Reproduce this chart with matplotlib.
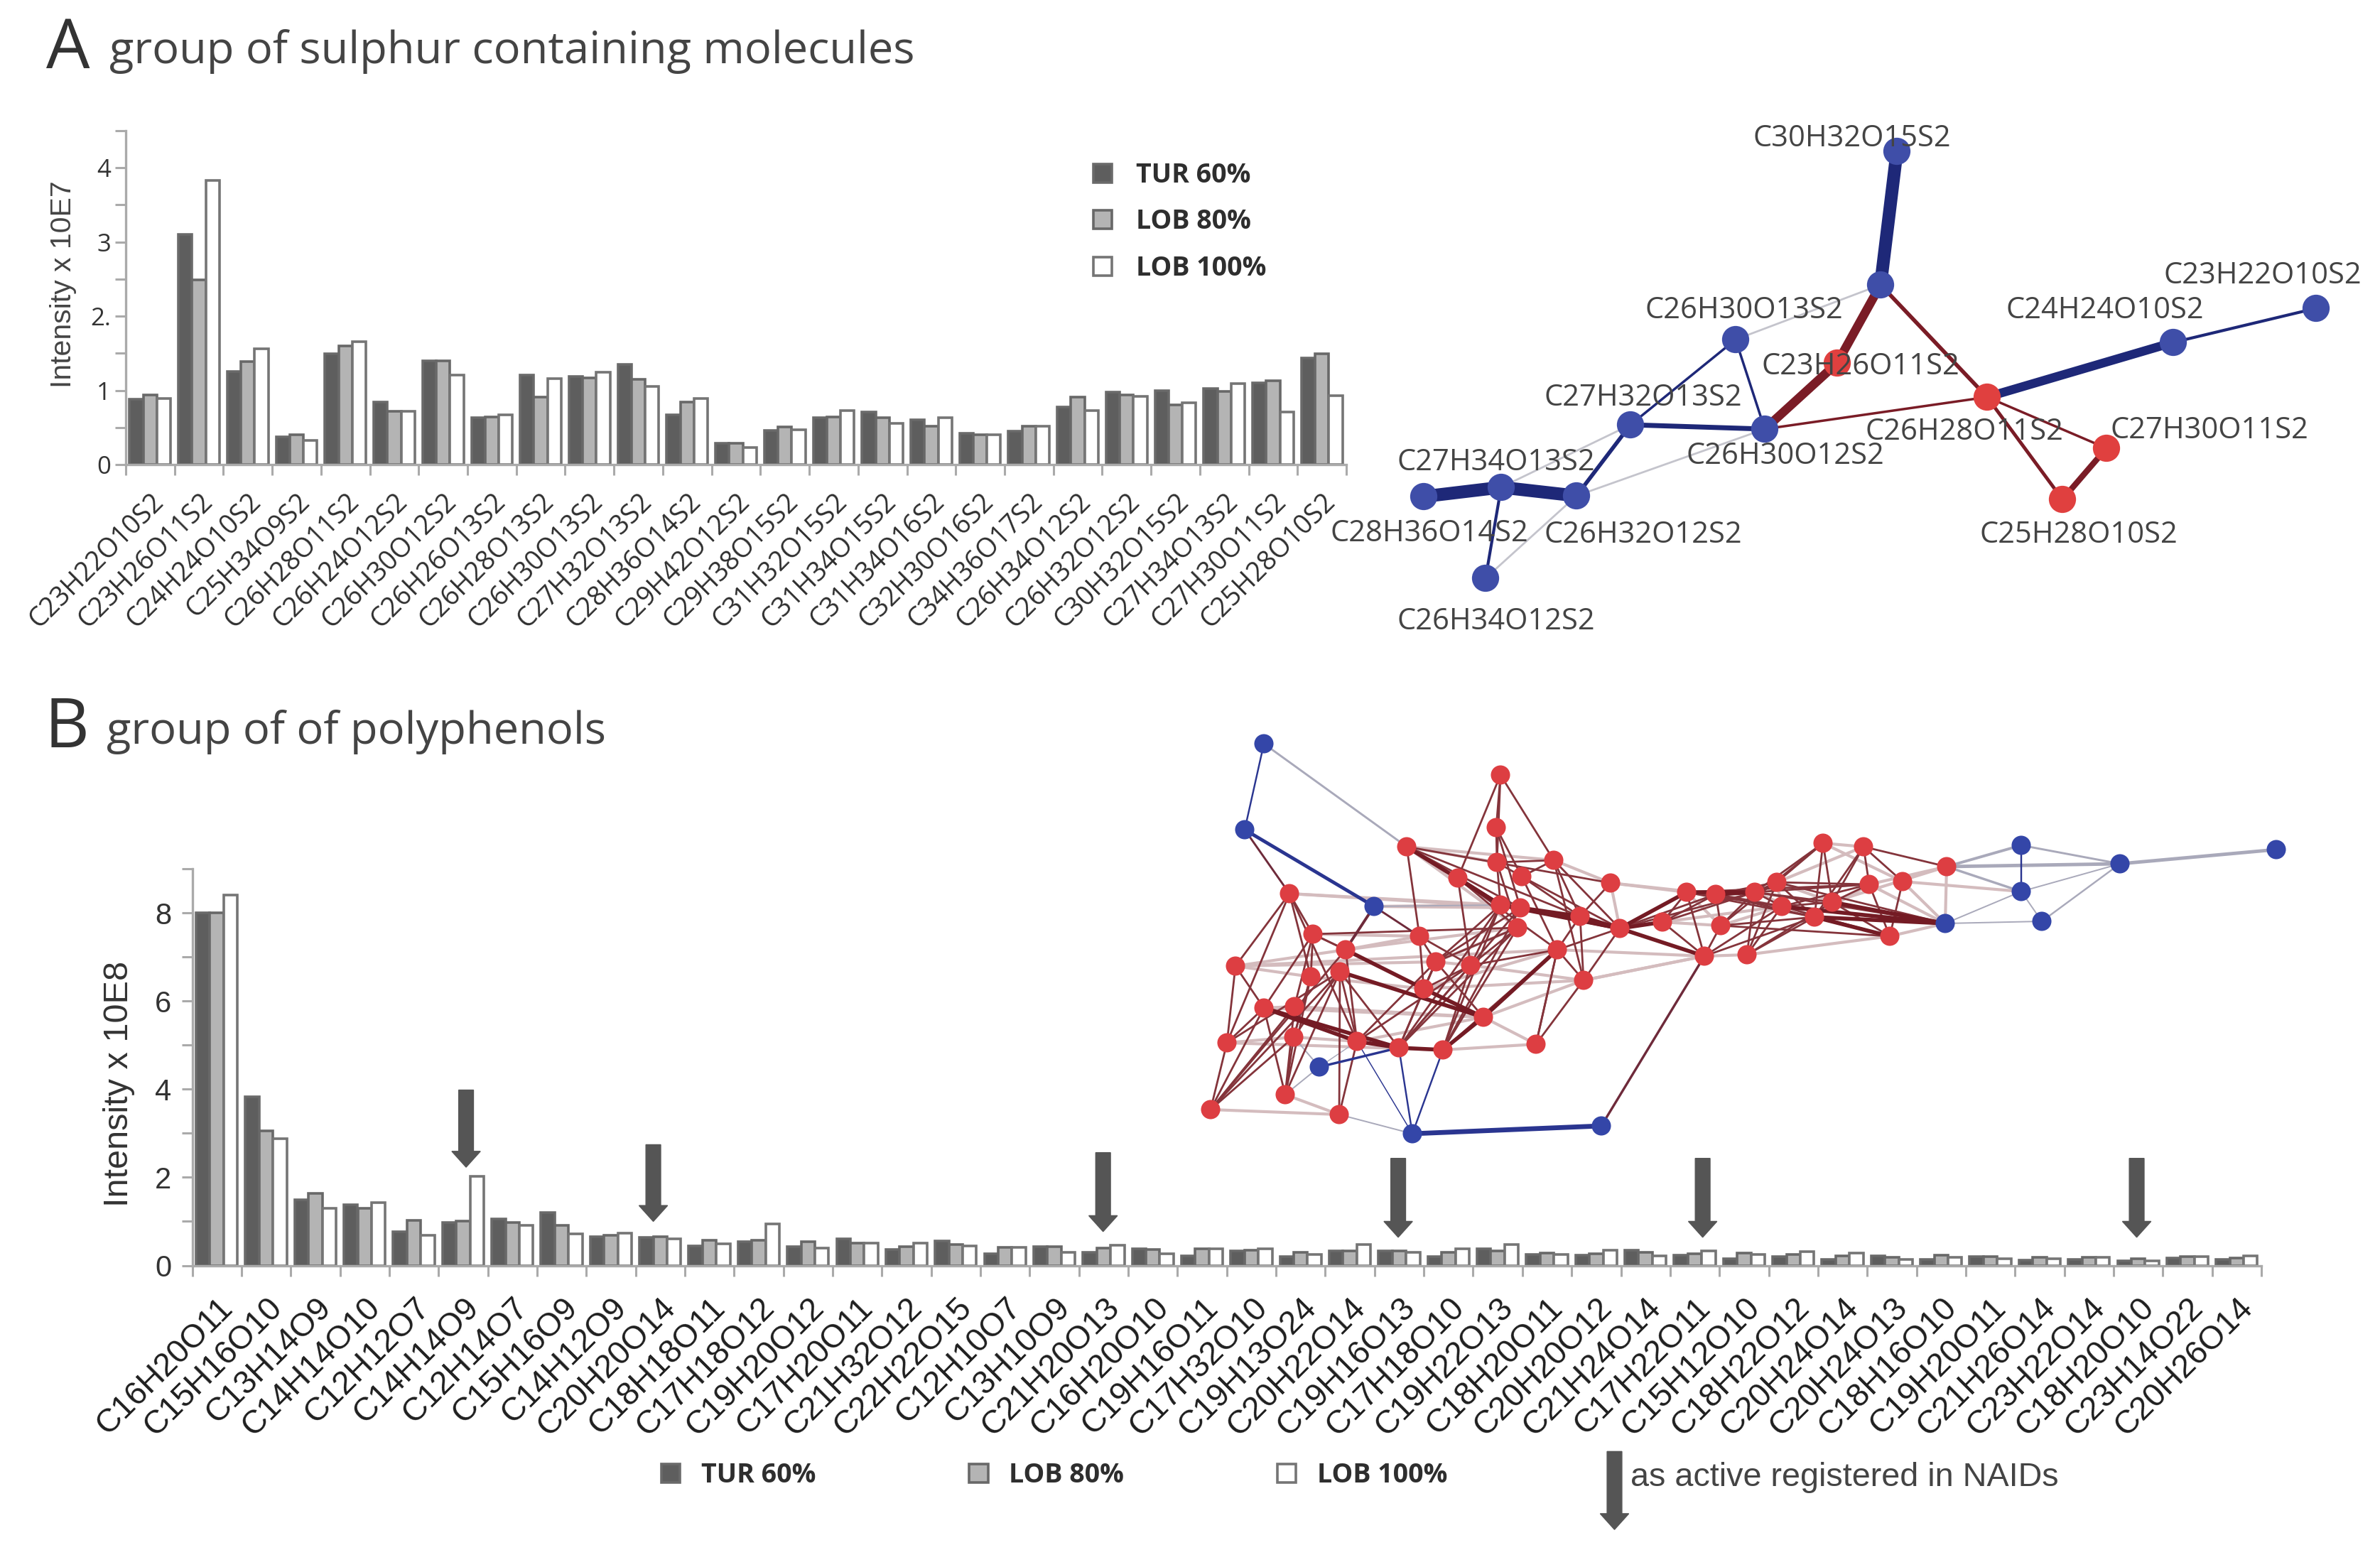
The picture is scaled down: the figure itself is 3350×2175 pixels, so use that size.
import matplotlib
matplotlib.use('Agg')
import matplotlib.pyplot as plt
import numpy as np

W, H = 3350, 2175
series_names = ['TUR 60%', 'LOB 80%', 'LOB 100%']

# panel A, intensity x 10E7
labels_a = ['C23H22O10S2', 'C23H26O11S2', 'C24H24O10S2', 'C25H34O9S2', 'C26H28O11S2',
            'C26H24O12S2', 'C26H30O12S2', 'C26H26O13S2', 'C26H28O13S2', 'C26H30O13S2',
            'C27H32O13S2', 'C28H36O14S2', 'C29H42O12S2', 'C29H38O15S2', 'C31H32O15S2',
            'C31H34O15S2', 'C31H34O16S2', 'C32H30O16S2', 'C34H36O17S2', 'C26H34O12S2',
            'C26H32O12S2', 'C30H32O15S2', 'C27H34O13S2', 'C27H30O11S2', 'C25H28O10S2']
tur_a = [0.88, 3.10, 1.25, 0.37, 1.49, 0.84, 1.40, 0.63, 1.21, 1.19, 1.35, 0.67, 0.29,
         0.46, 0.63, 0.71, 0.60, 0.42, 0.45, 0.78, 0.98, 1.00, 1.02, 1.10, 1.44]
lob80_a = [0.94, 2.49, 1.39, 0.40, 1.60, 0.72, 1.40, 0.64, 0.91, 1.17, 1.15, 0.84, 0.29,
           0.51, 0.64, 0.63, 0.52, 0.40, 0.52, 0.91, 0.94, 0.80, 0.99, 1.13, 1.49]
lob100_a = [0.89, 3.83, 1.56, 0.33, 1.66, 0.72, 1.21, 0.67, 1.16, 1.24, 1.05, 0.89, 0.23,
            0.47, 0.73, 0.56, 0.63, 0.40, 0.52, 0.73, 0.92, 0.83, 1.09, 0.71, 0.93]

# panel B, intensity x 10E8
labels_b = ['C16H20O11', 'C15H16O10', 'C13H14O9', 'C14H14O10', 'C12H12O7', 'C14H14O9',
            'C12H14O7', 'C15H16O9', 'C14H12O9', 'C20H20O14', 'C18H18O11', 'C17H18O12',
            'C19H20O12', 'C17H20O11', 'C21H32O12', 'C22H22O15', 'C12H10O7', 'C13H10O9',
            'C21H20O13', 'C16H20O10', 'C19H16O11', 'C17H32O10', 'C19H13O24', 'C20H22O14',
            'C19H16O13', 'C17H18O10', 'C19H22O13', 'C18H20O11', 'C20H20O12', 'C21H24O14',
            'C17H22O11', 'C15H12O10', 'C18H22O12', 'C20H24O14', 'C20H24O13', 'C18H16O10',
            'C19H20O11', 'C21H26O14', 'C23H22O14', 'C18H20O10', 'C23H14O22', 'C20H26O14']
tur_b = [8.00, 3.82, 1.49, 1.37, 0.77, 0.97, 1.05, 1.20, 0.66, 0.63, 0.44, 0.54, 0.42, 0.60,
         0.36, 0.55, 0.27, 0.42, 0.30, 0.38, 0.22, 0.33, 0.20, 0.33, 0.33, 0.20, 0.38, 0.25,
         0.24, 0.35, 0.24, 0.15, 0.20, 0.13, 0.22, 0.14, 0.20, 0.12, 0.13, 0.10, 0.17, 0.14]
lob80_b = [8.00, 3.05, 1.63, 1.30, 1.02, 1.00, 0.97, 0.91, 0.68, 0.66, 0.58, 0.58, 0.54, 0.50,
           0.42, 0.47, 0.41, 0.42, 0.40, 0.36, 0.38, 0.35, 0.30, 0.33, 0.33, 0.30, 0.33, 0.28,
           0.27, 0.30, 0.26, 0.28, 0.25, 0.22, 0.18, 0.23, 0.20, 0.18, 0.18, 0.15, 0.20, 0.17]
lob100_b = [8.40, 2.87, 1.30, 1.43, 0.68, 2.02, 0.91, 0.72, 0.74, 0.60, 0.49, 0.95, 0.40, 0.50,
            0.50, 0.45, 0.41, 0.30, 0.46, 0.27, 0.38, 0.38, 0.25, 0.47, 0.30, 0.38, 0.47, 0.25,
            0.35, 0.22, 0.33, 0.25, 0.32, 0.28, 0.14, 0.18, 0.16, 0.15, 0.18, 0.10, 0.20, 0.22]

# arrows in panel B: x in category units, tail and tip in axis units
arrow_x = [5.06, 8.86, 17.99, 23.98, 30.16, 38.97]
arrow_tail = [3.98, 2.74, 2.56, 2.43, 2.43, 2.43]
arrow_tip = [2.23, 1.00, 0.77, 0.64, 0.64, 0.64]

# network A, positions in image pixels
net_a_x = [2670, 2647, 2586, 2797, 3059, 3260, 2443, 2295, 2484, 2965, 2903, 2004, 2113, 2219, 2091]
net_a_y = [213, 401, 511, 559, 482, 434, 478, 598, 604, 631, 703, 699, 686, 698, 814]
net_a_red = [2, 3, 9, 10]
net_a_navy_edges = [(0, 1, 13), (3, 4, 9), (4, 5, 3), (6, 7, 2.5), (6, 8, 2.5), (7, 8, 5),
                    (7, 13, 4), (11, 12, 13), (12, 13, 13), (12, 14, 3)]
net_a_red_edges = [(1, 2, 9), (2, 8, 9), (1, 3, 4), (8, 3, 2.5), (3, 9, 2.5), (3, 10, 3.5), (9, 10, 6)]
net_a_pale_edges = [(6, 1), (7, 12), (8, 13), (13, 14)]
net_a_text = ['C30H32O15S2', 'C23H22O10S2', 'C24H24O10S2', 'C26H30O13S2', 'C23H26O11S2',
              'C27H32O13S2', 'C26H28O11S2', 'C27H30O11S2', 'C26H30O12S2', 'C27H34O13S2',
              'C28H36O14S2', 'C26H32O12S2', 'C25H28O10S2', 'C26H34O12S2']
net_a_text_x = [2607, 3185, 2963, 2455, 2619, 2313, 2765, 3110, 2513, 2106, 2012, 2313, 2926, 2106]
net_a_text_y = [195, 388, 437, 437, 516, 560, 608, 606, 642, 651, 751, 753, 753, 875]

# network B, red nodes then blue nodes (index 54 on)
net_b_x = [2112, 2106, 1980, 2107, 2187, 2052, 2142, 2267, 1815, 2112, 2140, 2224, 2374, 2415,
           2470, 2501, 2566, 2623, 2631, 2508, 2579, 2554, 2340, 2422, 2280, 2136, 1998, 1848,
           1894, 2192, 2399, 2459, 1739, 2021, 2070, 1845, 1886, 2004, 2229, 1779, 1822, 2088,
           1727, 1821, 1910, 1969, 2031, 2162, 1809, 1704, 1885, 2740, 2678, 2660,
           1779, 1752, 1934, 1857, 1988, 2254, 2845, 2845, 2738, 2874, 2984, 3204]
net_b_y = [1091, 1165, 1192, 1214, 1211, 1236, 1234, 1243, 1258, 1274, 1278, 1290, 1256, 1259,
           1256, 1242, 1187, 1192, 1245, 1276, 1270, 1291, 1298, 1303, 1307, 1306, 1318, 1315,
           1337, 1337, 1346, 1344, 1360, 1354, 1359, 1375, 1368, 1392, 1380, 1419, 1417, 1432,
           1468, 1460, 1466, 1475, 1478, 1470, 1541, 1562, 1569, 1220, 1241, 1318,
           1047, 1168, 1276, 1502, 1596, 1585, 1190, 1255, 1300, 1297, 1216, 1196]
first_blue_b = 54
net_b_heavy = [(2, 9), (5, 9), (9, 24), (10, 24), (24, 30), (36, 41), (37, 41), (39, 45), (39, 44),
               (29, 41), (45, 46), (13, 14), (12, 14), (24, 12), (21, 62), (44, 45), (28, 37),
               (24, 22), (19, 62), (20, 62), (21, 53), (10, 11), (11, 24), (46, 41)]
net_b_medium = [(0, 1), (0, 4), (0, 5), (0, 3), (1, 3), (1, 10), (3, 9), (3, 25), (4, 11), (4, 38),
                (2, 26), (2, 5), (6, 29), (8, 27), (8, 32), (8, 35), (8, 44), (27, 28), (27, 35),
                (28, 44), (32, 39), (32, 42), (42, 39), (42, 49), (49, 39), (49, 43), (49, 40),
                (48, 39), (48, 43), (50, 44), (33, 45), (34, 46), (34, 45), (25, 46), (25, 45),
                (9, 46), (10, 45), (29, 46), (29, 47), (38, 47), (38, 24), (38, 11), (26, 37),
                (26, 33), (33, 37), (37, 34), (36, 44), (35, 43), (36, 45), (35, 48), (36, 50),
                (40, 48), (5, 34), (5, 25), (6, 11), (11, 29), (9, 10), (25, 34),
                (25, 33), (9, 33), (9, 34), (10, 33), (29, 24), (27, 25), (24, 13),
                (12, 13), (14, 15), (22, 12), (22, 30), (30, 23), (30, 19), (30, 12), (31, 14),
                (31, 19), (31, 15), (16, 15), (16, 14), (16, 20), (16, 23), (17, 18), (17, 20),
                (17, 52), (17, 51), (15, 18), (14, 18), (12, 18), (23, 13), (23, 14),
                (18, 53), (19, 18), (20, 19), (52, 53), (29, 38), (2, 11), (2, 7), (4, 24),
                (49, 28), (49, 36), (42, 36), (45, 9), (44, 33), (44, 34), (48, 36), (43, 35),
                (43, 36), (40, 27), (39, 27), (42, 8), (24, 14), (22, 13), (22, 14), (13, 15),
                (19, 12), (19, 13), (14, 19), (14, 20), (18, 20), (15, 21), (16, 21), (17, 21),
                (12, 21), (13, 21), (23, 21), (14, 62), (15, 62), (23, 53), (19, 53), (20, 53),
                (31, 21), (31, 20), (30, 21), (27, 28), (4, 3), (4, 6), (3, 6), (6, 24), (7, 11),
                (1, 6), (5, 29), (2, 10), (26, 34), (33, 41), (34, 29), (45, 33), (46, 10), (47, 29)]
net_b_pale = [(2, 3), (2, 4), (8, 9), (8, 10), (32, 29), (29, 30), (38, 30), (32, 35), (42, 43),
              (46, 47), (41, 47), (41, 38), (49, 50), (48, 50), (39, 40), (7, 12), (7, 13), (7, 4),
              (7, 24), (31, 53), (30, 31), (52, 62), (52, 61), (18, 62), (53, 62), (51, 62), (33, 34),
              (26, 27), (28, 26), (37, 29), (43, 44), (2, 25), (15, 19), (16, 52), (20, 21), (32, 33),
              (32, 28), (33, 25), (34, 38), (37, 38), (56, 10), (56, 9), (28, 25), (35, 37), (40, 41),
              (39, 41), (42, 46), (44, 41), (30, 38), (14, 21), (12, 19), (13, 19), (22, 19), (23, 19),
              (16, 17), (17, 15), (18, 51), (20, 51), (21, 20), (21, 18), (15, 20), (22, 23), (12, 23)]
net_b_blue = [(58, 59, 7), (55, 56, 5), (54, 55, 2.5), (60, 61, 2.5), (45, 58, 2.5), (46, 58, 2.5),
              (57, 45, 3.5), (44, 58, 1.5)]
net_b_dark_to_blue = [(30, 59, 3.5), (55, 8, 3), (56, 28, 4), (56, 26, 3)]
net_b_grey = [(54, 2, 3), (51, 60, 4), (51, 61, 3.5), (60, 64, 3), (61, 64, 2), (63, 64, 2.5),
              (61, 63, 2), (64, 65, 5), (51, 64, 5), (62, 61, 2), (62, 63, 2), (44, 57, 1.5),
              (50, 58, 2), (48, 57, 2), (43, 57, 2), (56, 9, 2)]


def px_axes(left, top, right, bottom):
    return fig.add_axes([left / W, 1 - bottom / H, (right - left) / W, (bottom - top) / H])


def draw_bars(ax, labels, series, ymax, major, labelled):
    x = np.arange(len(labels))
    faces = ['#5e5e5e', '#b4b4b4', 'white']
    edges = ['#6a6a6a', '#686868', '#757575']
    bars = []
    for k, vals in enumerate(series):
        bars.append(ax.bar(x + (k - 1) * 0.28, vals, 0.28, color=faces[k], edgecolor=edges[k],
                           linewidth=2.6, label=series_names[k]))
    ax.set_xlim(-0.5, len(labels) - 0.5)
    ax.set_ylim(0, ymax)
    ax.spines['top'].set_visible(False)
    ax.spines['right'].set_visible(False)
    ax.spines['left'].set_color('#aaaaaa')
    ax.spines['bottom'].set_color('#aaaaaa')
    ax.spines['left'].set_linewidth(2.4)
    ax.spines['bottom'].set_linewidth(2.4)
    ax.set_xticks(np.arange(len(labels) + 1) - 0.5)
    ax.set_xticklabels([])
    ax.set_yticks(np.arange(0, ymax + major / 2, major))
    ax.set_yticklabels(labelled)
    ax.tick_params(axis='both', which='major', color='#aaaaaa', width=2.2, length=11)
    return bars


fig = plt.figure(figsize=(W / 100, H / 100), dpi=100)

# bar chart A
ax_a = px_axes(177, 184, 1895, 654)
bars_a = draw_bars(ax_a, labels_a, [tur_a, lob80_a, lob100_a], 4.5, 0.5,
                   ['0', '', '1', '', '2.', '', '3', '', '4', ''])
ax_a.set_xticks(np.arange(len(labels_a)), minor=True)
ax_a.set_xticklabels(labels_a, minor=True, rotation=45, ha='right', va='top', rotation_mode='anchor',
                     fontsize=27, family='Open Sans', color='#2e2e2e')
ax_a.tick_params(axis='x', which='minor', length=0, pad=24)
ax_a.tick_params(axis='y', labelsize=25, labelcolor='#333333', pad=4)
for t in ax_a.get_yticklabels():
    t.set_family('Open Sans')
ax_a.set_ylabel('Intensity x 10E7', fontsize=29.5, family='Liberation Sans', color='#444444')
ax_a.yaxis.set_label_coords((108 - 177) / (1895 - 177), 0.54)
ax_a.legend(handles=bars_a, loc='upper left', bbox_to_anchor=(1539 / W, 1 - 228 / H),
            bbox_transform=fig.transFigure, frameon=False, borderpad=0, borderaxespad=0,
            handlelength=0.7, handleheight=0.7, handletextpad=0.9, labelspacing=0.73,
            prop={'family': 'Open Sans', 'weight': 'bold', 'size': 27}, labelcolor='#2e2e2e')

# bar chart B
ax_b = px_axes(270.5, 1223, 3183, 1781.5)
bars_b = draw_bars(ax_b, labels_b, [tur_b, lob80_b, lob100_b], 9, 1,
                   ['0', '', '2', '', '4', '', '6', '', '8', ''])
ax_b.set_xticks(np.arange(len(labels_b)), minor=True)
ax_b.set_xticklabels(labels_b, minor=True, rotation=45, ha='right', va='top', rotation_mode='anchor',
                     fontsize=33, family='Liberation Sans', color='#1e1e1e')
ax_b.tick_params(axis='x', which='minor', length=0, pad=27)
ax_b.tick_params(axis='y', labelsize=30, labelcolor='#333333', pad=10)
for t in ax_b.get_yticklabels():
    t.set_family('Liberation Sans')
ax_b.set_ylabel('Intensity x 10E8', fontsize=35, family='Liberation Sans', color='#333333')
ax_b.yaxis.set_label_coords((190 - 270.5) / (3183 - 270.5), 0.457)
ax_b.legend(handles=bars_b, loc='upper left', bbox_to_anchor=(931 / W, 1 - 2058 / H), ncol=3,
            bbox_transform=fig.transFigure, frameon=False, borderpad=0, borderaxespad=0,
            handlelength=0.7, handleheight=0.7, handletextpad=0.8, columnspacing=5.75,
            prop={'family': 'Open Sans', 'weight': 'bold', 'size': 27}, labelcolor='#2e2e2e')

for xa, tail, tip in zip(arrow_x, arrow_tail, arrow_tip):
    ax_b.arrow(xa, tail, 0, tip - tail, width=0.3, head_width=0.58, head_length=0.36,
               length_includes_head=True, color='#555555', clip_on=False, zorder=6)
# key arrow under the legend
ax_b.arrow(28.37, -4.22, 0, -1.77, width=0.3, head_width=0.58, head_length=0.36,
           length_includes_head=True, color='#555555', clip_on=False, zorder=6)

# overlay for headings and both networks, in image pixels
ov = fig.add_axes([0, 0, 1, 1], facecolor='none')
ov.set_xlim(0, W)
ov.set_ylim(H, 0)
ov.axis('off')

ov.text(96, 70, 'A', fontsize=70, family='Open Sans', color='#333333', ha='center', va='center')
ov.text(154, 72, 'group of sulphur containing molecules', fontsize=45.5, family='Open Sans',
        color='#444444', va='center')
ov.text(94, 1026, 'B', fontsize=70, family='Open Sans', color='#333333', ha='center', va='center')
ov.text(150, 1031, 'group of of polyphenols', fontsize=45.5, family='Open Sans', color='#444444',
        va='center')
ov.text(2295, 2080, 'as active registered in NAIDs', fontsize=33.7, family='Liberation Sans',
        color='#444444', va='center')

# network A
for i, j in net_a_pale_edges:
    ov.plot([net_a_x[i], net_a_x[j]], [net_a_y[i], net_a_y[j]], color='#c4c4cc', lw=2, zorder=2)
for i, j, lw in net_a_navy_edges:
    ov.plot([net_a_x[i], net_a_x[j]], [net_a_y[i], net_a_y[j]], color='#1e2878', lw=lw, zorder=3)
for i, j, lw in net_a_red_edges:
    ov.plot([net_a_x[i], net_a_x[j]], [net_a_y[i], net_a_y[j]], color='#7a1c26', lw=lw, zorder=3)
colors_a = ['#e0403f' if k in net_a_red else '#3f4ea8' for k in range(len(net_a_x))]
ov.scatter(net_a_x, net_a_y, s=760, c=colors_a, linewidths=0, zorder=4)
for name, tx, ty in zip(net_a_text, net_a_text_x, net_a_text_y):
    ov.text(tx, ty, name, fontsize=30, family='Open Sans', color='#444444', ha='center', va='center',
            zorder=5)

# network B
for i, j in net_b_pale:
    ov.plot([net_b_x[i], net_b_x[j]], [net_b_y[i], net_b_y[j]], color='#d4bcbe', lw=3, zorder=2)
for i, j, lw in net_b_grey:
    ov.plot([net_b_x[i], net_b_x[j]], [net_b_y[i], net_b_y[j]], color='#a9a9ba', lw=lw * 0.7, zorder=2)
for i, j in net_b_medium:
    ov.plot([net_b_x[i], net_b_x[j]], [net_b_y[i], net_b_y[j]], color='#84343b', lw=2, zorder=3)
for i, j in net_b_heavy:
    ov.plot([net_b_x[i], net_b_x[j]], [net_b_y[i], net_b_y[j]], color='#741b24', lw=4, zorder=3)
for i, j, lw in net_b_dark_to_blue:
    ov.plot([net_b_x[i], net_b_x[j]], [net_b_y[i], net_b_y[j]], color='#6e2a3a', lw=lw * 0.7, zorder=3)
for i, j, lw in net_b_blue:
    ov.plot([net_b_x[i], net_b_x[j]], [net_b_y[i], net_b_y[j]], color='#2a3590', lw=lw * 0.7, zorder=3)
colors_b = ['#dd3e42' if k < first_blue_b else '#3446a8' for k in range(len(net_b_x))]
ov.scatter(net_b_x, net_b_y, s=380, c=colors_b, linewidths=0, zorder=4)

fig.savefig('out.png', dpi=100)
